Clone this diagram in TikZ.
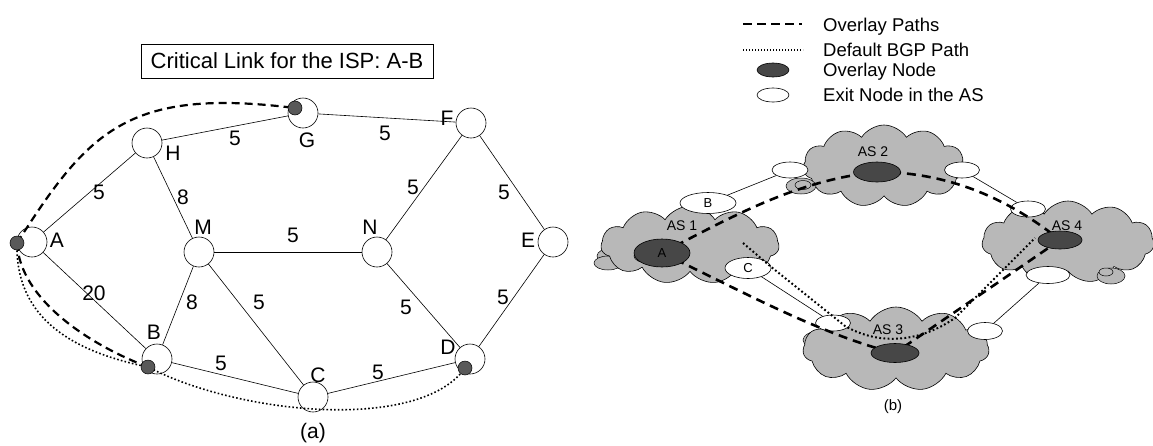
\documentclass[tikz,border=0pt]{standalone}
\usepackage{fontspec}
\setmainfont{Liberation Sans}
\usetikzlibrary{shapes.symbols,shapes.geometric}
\begin{document}
\begin{tikzpicture}[x=1pt,y=-1pt,
  vertex/.style={circle,draw,line width=0.6pt,fill=white,minimum size=30pt,inner sep=0pt},
  odot/.style={circle,draw,line width=0.5pt,fill=black!65,minimum size=14pt,inner sep=0pt},
  lbl/.style={font=\fontsize{21pt}{21pt}\selectfont,inner sep=0pt},
  link/.style={line width=0.6pt},
  ovpath/.style={line width=2.2pt,dash pattern=on 8pt off 5pt},
  bgppath/.style={line width=1.6pt,dash pattern=on 1.6pt off 2.2pt},
  ascloud/.style={cloud,cloud puffs=11,cloud puff arc=115,cloud ignores aspect,draw,line width=0.6pt,fill=black!28,inner sep=0pt},
  lobe/.style={ellipse,draw,line width=0.5pt,fill=black!28,inner sep=0pt},
  exitnode/.style={ellipse,draw,line width=0.6pt,fill=white,inner sep=0pt,font=\fontsize{13pt}{13pt}\selectfont},
  ovnode/.style={ellipse,draw,line width=0.6pt,fill=black!72,inner sep=0pt,font=\fontsize{13pt}{13pt}\selectfont},
  bovpath/.style={line width=2.6pt,dash pattern=on 9pt off 6pt},
  bbgppath/.style={line width=2pt,dash pattern=on 1.8pt off 2.4pt},
  aslbl/.style={font=\fontsize{14pt}{14pt}\selectfont,inner sep=0pt},
  leg/.style={font=\fontsize{18.5pt}{18.5pt}\selectfont,inner sep=0pt,anchor=west}
]
\useasboundingbox (0,0) rectangle (1153,445);

% ---------------- (a) ISP topology ----------------
\node[draw,line width=0.6pt,minimum width=292pt,minimum height=34pt,inner sep=0pt,
      font=\fontsize{22pt}{22pt}\selectfont] (title) at (287,61) {Critical Link for the ISP: A-B};

\node[vertex] (A) at (32,242) {};
\node[vertex] (H) at (147,143) {};
\node[vertex] (G) at (303,113) {};
\node[vertex] (F) at (471,123) {};
\node[vertex] (E) at (553,242) {};
\node[vertex] (M) at (199,252) {};
\node[vertex] (N) at (377,252) {};
\node[vertex] (B) at (157,359) {};
\node[vertex] (C) at (313,397) {};
\node[vertex] (D) at (470,359) {};

\draw[link] (A) -- (H);
\draw[link] (A) -- (B);
\draw[link] (H) -- (G);
\draw[link] (H) -- (M);
\draw[link] (G) -- (F);
\draw[link] (M) -- (N);
\draw[link] (M) -- (B);
\draw[link] (M) -- (C);
\draw[link] (B) -- (C);
\draw[link] (C) -- (D);
\draw[link] (N) -- (F);
\draw[link] (N) -- (D);
\draw[link] (F) -- (E);
\draw[link] (E) -- (D);

\coordinate (pA) at (17,243);
\coordinate (pG) at (295,108);
\coordinate (pB) at (148,367);
\coordinate (pD) at (465,368);

% overlay paths through the extra nodes
\draw[ovpath] (pA) .. controls (88,132) and (127,87) .. (pG);
\draw[ovpath] (pA) .. controls (20,300) and (90,345) .. (pB);
% default path
\draw[bgppath] (pA) .. controls (15,320) and (75,352) .. (pB)
               .. controls (240,415) and (420,432) .. (pD);

\node[odot] (dA) at (pA) {};
\node[odot] (dG) at (pG) {};
\node[odot] (dB) at (pB) {};
\node[odot] (dD) at (pD) {};

\node[lbl] (tA) at (57,240) {A};
\node[lbl] (tH) at (173,153) {H};
\node[lbl] (tG) at (307,140) {G};
\node[lbl] (tF) at (447,118) {F};
\node[lbl] (tE) at (528,240) {E};
\node[lbl] (tM) at (203,227) {M};
\node[lbl] (tN) at (370,227) {N};
\node[lbl] (tB) at (154,332) {B};
\node[lbl] (tC) at (318,375) {C};
\node[lbl] (tD) at (448,347) {D};

\node[lbl] (wAH) at (99,192) {5};
\node[lbl] (wHG) at (235,138) {5};
\node[lbl] (wHM) at (183,197) {8};
\node[lbl] (wGF) at (385,133) {5};
\node[lbl] (wFN) at (413,187) {5};
\node[lbl] (wFE) at (504,192) {5};
\node[lbl] (wMN) at (293,235) {5};
\node[lbl] (wAB) at (94,293) {20};
\node[lbl] (wBM) at (192,302) {8};
\node[lbl] (wMC) at (259,302) {5};
\node[lbl] (wND) at (406,307) {5};
\node[lbl] (wED) at (503,297) {5};
\node[lbl] (wBC) at (221,363) {5};
\node[lbl] (wCD) at (378,372) {5};

\node[lbl] (capa) at (313,433) {(a)};

% ---------------- (b) overlay across ASes ----------------
% legend
\coordinate (lg1a) at (743,24);
\coordinate (lg1b) at (802,24);
\coordinate (lg2a) at (743,50);
\coordinate (lg2b) at (803,50);
\draw[line width=2pt,dash pattern=on 9pt off 5pt] (lg1a) -- (lg1b);
\draw[line width=1.2pt,dash pattern=on 1.2pt off 1.8pt] (lg2a) -- (lg2b);
\node[ovnode,minimum width=32pt,minimum height=14pt] (lg3) at (773,70) {};
\node[exitnode,minimum width=32pt,minimum height=14pt] (lg4) at (773,95) {};
\node[leg] (lt1) at (823,27) {Overlay Paths};
\node[leg] (lt2) at (823,50) {Default BGP Path};
\node[leg] (lt3) at (823,72) {Overlay Node};
\node[leg] (lt4) at (823,95) {Exit Node in the AS};

% AS clouds
\node[lobe,minimum width=30pt,minimum height=16pt] (s1a) at (612,256) {};
\node[lobe,minimum width=28pt,minimum height=14pt] (s1b) at (608,263) {};
\node[ascloud,minimum width=178pt,minimum height=78pt] (as1) at (690,245) {};
\node[ascloud,minimum width=162pt,minimum height=82pt] (as2) at (884,166) {};
\node[lobe,minimum width=34pt,minimum height=18pt] (s3a) at (820,340) {};
\node[ascloud,minimum width=186pt,minimum height=84pt] (as3) at (896,349) {};
\node[ascloud,minimum width=172pt,minimum height=82pt] (as4) at (1068,242) {};
\node[lobe,minimum width=30pt,minimum height=16pt] (s2a) at (801,186) {};
\node[lobe,minimum width=16pt,minimum height=9pt] (s2b) at (803,185) {};
\node[lobe,minimum width=28pt,minimum height=16pt] (s4a) at (1111,276) {};
\node[lobe,minimum width=14pt,minimum height=8pt] (s4b) at (1106,272) {};
\node[lobe,minimum width=28pt,minimum height=14pt] (s1c) at (648,256) {};

% exit nodes
\node[exitnode,minimum width=56pt,minimum height=21pt] (exB) at (708,203) {B};
\node[exitnode,minimum width=46pt,minimum height=21pt] (exC) at (748,268) {C};
\node[exitnode,minimum width=36pt,minimum height=16pt] (ex2L) at (790,170) {};
\node[exitnode,minimum width=35pt,minimum height=16pt] (ex2R) at (962,170) {};
\node[exitnode,minimum width=35pt,minimum height=16pt] (ex4T) at (1028,209) {};
\node[exitnode,minimum width=44pt,minimum height=17pt] (ex4B) at (1048,275) {};
\node[exitnode,minimum width=35pt,minimum height=16pt] (ex3L) at (833,323) {};
\node[exitnode,minimum width=35pt,minimum height=17pt] (ex3R) at (985,331) {};

% inter-AS links
\draw[link] (exB) -- (ex2L);
\draw[link] (ex2R) -- (ex4T);
\draw[link] (ex4B) -- (ex3R);
\draw[link] (exC) -- (ex3L);

% overlay node positions
\coordinate (oA) at (662,253);
\coordinate (o2) at (877,172);
\coordinate (o4) at (1060,240);
\coordinate (o3) at (895,353);

% overlay paths
\draw[bovpath] (oA) .. controls (740,212) and (800,180) .. (o2);
\draw[bovpath] (o2) .. controls (950,172) and (1010,200) .. (o4);
\draw[bovpath] (o4) -- (o3);
\draw[bovpath] (oA) .. controls (730,285) and (820,335) .. (o3);

% default BGP path
\coordinate (q0) at (743,243);
\coordinate (q1) at (770,266);
\coordinate (q2) at (845,326);
\coordinate (q3) at (955,318);
\coordinate (q4) at (1035,238);
\draw[bbgppath] (q0) -- (q1) -- (q2) .. controls (880,346) and (920,342) .. (q3) -- (q4);

% overlay nodes
\node[ovnode,minimum width=56pt,minimum height=28pt] (ovA) at (oA) {A};
\node[ovnode,minimum width=47pt,minimum height=20pt] (ov2) at (o2) {};
\node[ovnode,minimum width=44pt,minimum height=18pt] (ov4) at (o4) {};
\node[ovnode,minimum width=48pt,minimum height=19pt] (ov3) at (o3) {};

\node[aslbl] (n1) at (682,226) {AS 1};
\node[aslbl] (n2) at (873,152) {AS 2};
\node[aslbl] (n4) at (1067,226) {AS 4};
\node[aslbl] (n3) at (888,330) {AS 3};

\node[font=\fontsize{15pt}{15pt}\selectfont,inner sep=0pt] (capb) at (893,407) {(b)};
\end{tikzpicture}
\end{document}
